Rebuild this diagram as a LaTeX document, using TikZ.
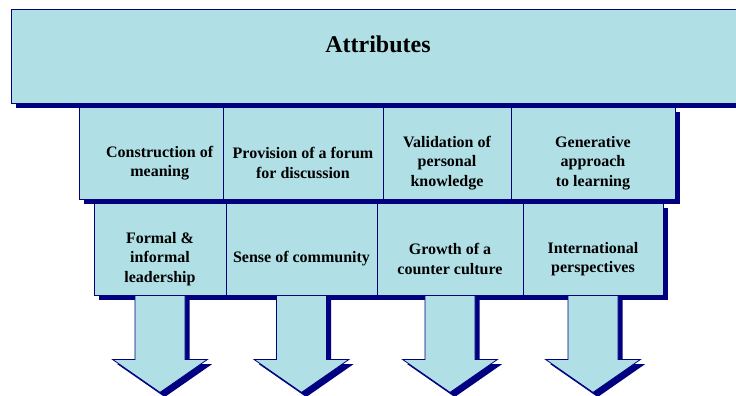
\documentclass[tikz,border=0pt]{standalone}
\usepackage{fontspec}
\setmainfont{Liberation Serif}
\usetikzlibrary{shadows}
\definecolor{paleblue}{HTML}{B0E0E6}
\definecolor{deepnavy}{HTML}{000080}
% block arrow hanging below a box
\newcommand{\blockarrow}[1]{%
  \path [arrowbody] ([xshift=-18.75pt]#1.south) -- ++(0,64) -- ++(-22.5,0)
    -- ++(47.5,33) -- ++(47.5,-33) -- ++(-22.5,0) -- ++(0,-64) -- cycle;}
\begin{document}
\begin{tikzpicture}[x=0.75pt, y=-0.75pt,
    box/.style={draw=deepnavy, fill=paleblue, line width=0.6pt, inner sep=0pt,
      minimum height=69pt,
      drop shadow={shadow xshift=3.5pt, shadow yshift=-3.5pt, fill=deepnavy, opacity=1}},
    txt/.style={font=\bfseries\fontsize{12}{14.6}\selectfont, align=center, yshift=-7.5pt},
    arrowbody/.style={draw=deepnavy, fill=paleblue, line width=0.6pt,
      drop shadow={shadow xshift=3.5pt, shadow yshift=-3.5pt, fill=deepnavy, opacity=1}}]
    \useasboundingbox (0,0) rectangle (736,396);
    \clip (0,0) rectangle (736,396);
    \node [box, minimum width=550.5pt, minimum height=70.5pt] (top) at (378,56) {};
    \node [font=\bfseries\fontsize{18}{20}\selectfont] (heading) at ([yshift=9pt]top.center) {Attributes};
    % first row
    \node [box, minimum width=108pt, label={[txt, xshift=6.5pt]center:{Construction of\\meaning}}] (meaning) at (151,153) {};
    \node [box, minimum width=120pt, label={[txt]center:{Provision of a forum\\for discussion}}] (forum) at (303,153) {};
    \node [box, minimum width=96pt, label={[txt]center:{Validation of\\personal\\knowledge}}] (validation) at (447,153) {};
    \node [box, minimum width=123pt, label={[txt]center:{Generative\\approach\\to learning}}] (generative) at (593,153) {};
    % second row
    \node [box, minimum width=99pt, label={[txt]center:{Formal \&\\informal\\leadership}}] (leadership) at (160,249) {};
    \node [box, minimum width=113.25pt, label={[txt]center:{Sense of community}}] (community) at (301.5,249) {};
    \node [box, minimum width=109.5pt, label={[txt]center:{Growth of a\\counter culture}}] (counter) at (450,249) {};
    \node [box, minimum width=105pt, label={[txt]center:{International\\perspectives}}] (international) at (593,249) {};
    \blockarrow{leadership}
    \blockarrow{community}
    \blockarrow{counter}
    \blockarrow{international}
\end{tikzpicture}
\end{document}
